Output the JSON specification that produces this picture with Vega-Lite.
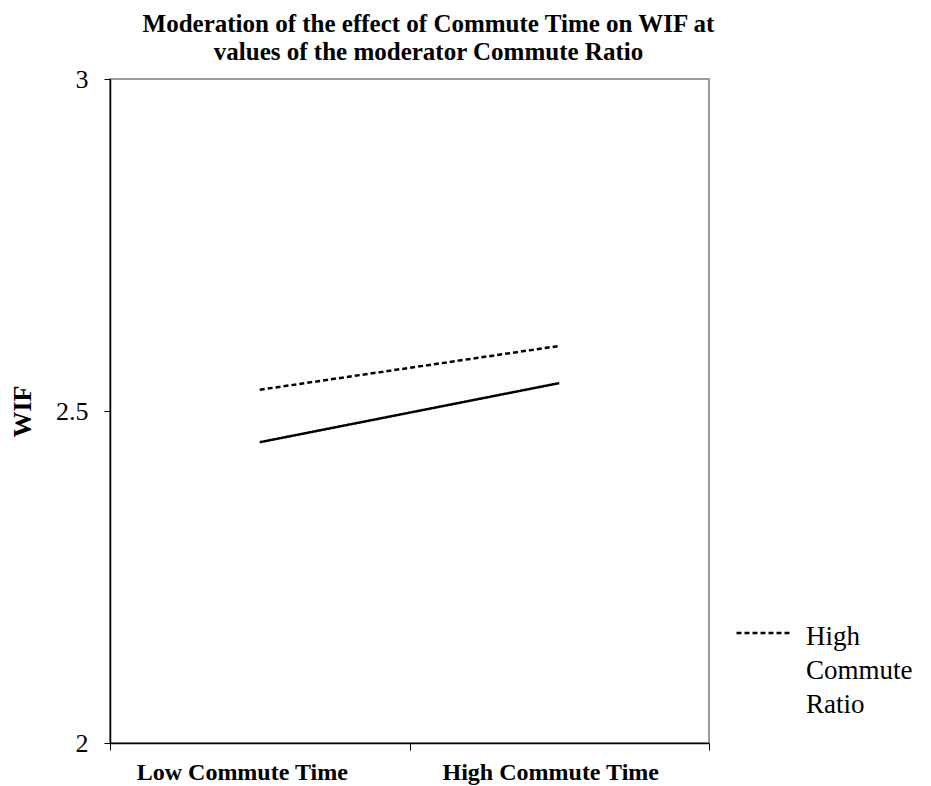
{
  "$schema": "https://vega.github.io/schema/vega-lite/v6.json",
  "autosize": "none",
  "padding": {"left": 110, "top": 79, "right": 222, "bottom": 43},
  "width": 599,
  "height": 664,
  "background": "white",
  "config": {
    "font": "Liberation Serif",
    "view": {"stroke": "#9a9a9a", "strokeWidth": 2}
  },
  "title": {
    "text": ["Moderation of the effect of Commute Time  on WIF at", "values of the moderator Commute Ratio"],
    "font": "Liberation Serif",
    "fontSize": 25,
    "fontWeight": "bold",
    "color": "black",
    "lineHeight": 28,
    "anchor": "middle",
    "dx": 19,
    "offset": 1
  },
  "data": {
    "values": [
      {"time": "Low Commute Time", "ratio": "Low Commute Ratio", "wif": 2.453},
      {"time": "High Commute Time", "ratio": "Low Commute Ratio", "wif": 2.542},
      {"time": "Low Commute Time", "ratio": "High Commute Ratio", "wif": 2.532},
      {"time": "High Commute Time", "ratio": "High Commute Ratio", "wif": 2.598}
    ]
  },
  "mark": {"type": "line", "color": "black", "strokeWidth": 2.5},
  "encoding": {
    "x": {
      "field": "time",
      "type": "nominal",
      "sort": ["Low Commute Time", "High Commute Time"],
      "scale": {"paddingInner": 0, "paddingOuter": 0},
      "axis": {
        "title": null,
        "labelAngle": 0,
        "labelFont": "Liberation Serif",
        "labelFontSize": 24,
        "labelFontWeight": "bold",
        "labelColor": "black",
        "labelPadding": 10,
        "labelLimit": 400,
        "labelOffset": {"condition": {"test": "datum.value == 'Low Commute Time'", "value": -18}, "value": -9},
        "tickBand": "extent",
        "tickSize": 7,
        "tickColor": "black",
        "domainColor": "black",
        "domainWidth": 1.5
      }
    },
    "y": {
      "field": "wif",
      "type": "quantitative",
      "scale": {"domain": [2, 3], "nice": false, "zero": false},
      "axis": {
        "title": "WIF",
        "titleFont": "Liberation Serif",
        "titleFontSize": 26,
        "titleFontWeight": "bold",
        "titleColor": "black",
        "titleX": -88,
        "titleBaseline": "middle",
        "values": [2, 2.5, 3],
        "format": "~g",
        "labelFont": "Liberation Serif",
        "labelFontSize": 26,
        "labelColor": "black",
        "labelPadding": 16,
        "tickSize": 6,
        "tickColor": "black",
        "domainColor": "black",
        "domainWidth": 1.5,
        "grid": false
      }
    },
    "strokeDash": {
      "field": "ratio",
      "type": "nominal",
      "scale": {
        "domain": ["Low Commute Ratio", "High Commute Ratio"],
        "range": [[1, 0], [5, 3]]
      },
      "legend": {
        "title": null,
        "values": ["High Commute Ratio"],
        "orient": "none",
        "legendX": 625,
        "legendY": 525,
        "symbolType": "stroke",
        "symbolSize": 3025,
        "symbolStrokeColor": "black",
        "symbolStrokeWidth": 2.5,
        "labelFont": "Liberation Serif",
        "labelFontSize": 27,
        "labelColor": "black",
        "labelExpr": "split(datum.label, ' ')",
        "labelBaseline": "alphabetic",
        "labelOffset": 13,
        "labelLimit": 200,
        "encode": {
          "labels": {"update": {"lineHeight": {"value": 34}, "dy": {"value": 12}}}
        }
      }
    }
  }
}
